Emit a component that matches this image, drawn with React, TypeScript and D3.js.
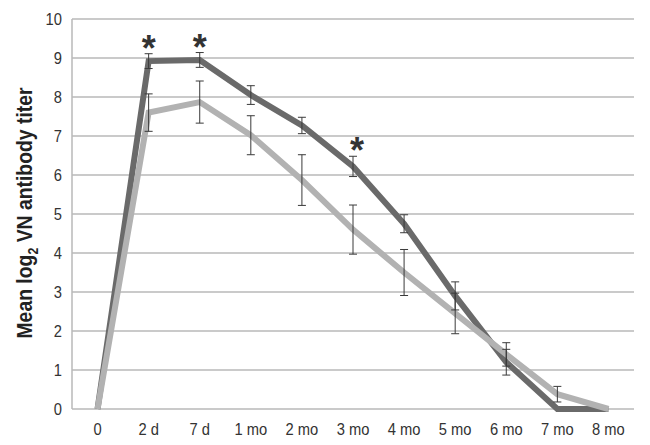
import React from "react";
import * as d3 from "d3";

const categories = ["0", "2 d", "7 d", "1 mo", "2 mo", "3 mo", "4 mo", "5 mo", "6 mo", "7 mo", "8 mo"];
const darkMean = [0, 8.92, 8.95, 8.05, 7.27, 6.22, 4.75, 2.9, 1.2, 0, 0];
const darkErr = [0, 0.19, 0.19, 0.24, 0.21, 0.26, 0.23, 0.36, 0.33, 0, 0];
const lightMean = [0, 7.6, 7.87, 7.02, 5.87, 4.6, 3.5, 2.45, 1.4, 0.38, 0];
const lightErr = [0, 0.48, 0.54, 0.5, 0.65, 0.63, 0.59, 0.52, 0.3, 0.2, 0];
const starIndices = [1, 2, 5];
const yTicks = [0, 1, 2, 3, 4, 5, 6, 7, 8, 9, 10];

export default function App() {
  const W = 650, H = 445;
  const left = 72, right = 634, top = 19, bottom = 409;
  const x = d3.scaleBand<string>().domain(categories).range([left, right]);
  const y = d3.scaleLinear().domain([0, 10]).range([bottom, top]);
  const cx = (i: number) => (x(categories[i]) as number) + x.bandwidth() / 2;
  const line = d3.line<number>().x((_, i) => cx(i)).y((v) => y(v));
  const font = "'Liberation Sans', Arial, sans-serif";

  const errBars = (means: number[], errs: number[], key: string) =>
    means.map((m, i) =>
      errs[i] > 0 ? (
        <g key={key + i} stroke="#3a3a3a" strokeWidth={1}>
          <line x1={cx(i)} x2={cx(i)} y1={y(m + errs[i])} y2={y(m - errs[i])} />
          <line x1={cx(i) - 4} x2={cx(i) + 4} y1={y(m + errs[i])} y2={y(m + errs[i])} />
          <line x1={cx(i) - 4} x2={cx(i) + 4} y1={y(m - errs[i])} y2={y(m - errs[i])} />
        </g>
      ) : null
    );

  return (
    <svg width={W} height={H} style={{ position: "absolute", left: 0, top: 0, background: "#fff" }}>
      {yTicks.map((t) => (
        <g key={"g" + t}>
          <line x1={left} x2={right} y1={y(t)} y2={y(t)} stroke="#b8b8b8" strokeWidth={1.5} />
          <text x={62} y={y(t)} dy="0.36em" textAnchor="end" fontFamily={font} fontSize={16} fill="#333"
            transform={`translate(62,0) scale(0.92,1) translate(-62,0)`}>
            {t}
          </text>
        </g>
      ))}
      <line x1={left} x2={left} y1={top} y2={bottom} stroke="#b8b8b8" strokeWidth={1.5} />
      {categories.map((c, i) => (
        <text key={"x" + c} x={0} y={429} dy="0.36em" textAnchor="middle" fontFamily={font} fontSize={16} fill="#333"
          transform={`translate(${cx(i)},0) scale(0.92,1)`}>
          {c}
        </text>
      ))}
      <path d={line(darkMean) as string} fill="none" stroke="#6a6a6a" strokeWidth={6} strokeLinejoin="miter" />
      <path d={line(lightMean) as string} fill="none" stroke="#b2b2b2" strokeWidth={6} strokeLinejoin="miter" />
      {errBars(darkMean, darkErr, "d")}
      {errBars(lightMean, lightErr, "l")}
      {starIndices.map((i) => (
        <text key={"s" + i} x={cx(i) + (i === 5 ? 4 : 0)} y={y(darkMean[i] + darkErr[i]) + 7} textAnchor="middle"
          fontFamily={font} fontSize={36} fontWeight="bold" fill="#333">
          *
        </text>
      ))}
      <text transform="translate(32,213) rotate(-90)" textAnchor="middle" fontFamily={font} fontSize={22} fontWeight="bold" fill="#222"
        textLength={251} lengthAdjust="spacingAndGlyphs">
        Mean log<tspan fontSize={14} dy={6}>2</tspan><tspan dy={-6}> VN antibody titer</tspan>
      </text>
    </svg>
  );
}
